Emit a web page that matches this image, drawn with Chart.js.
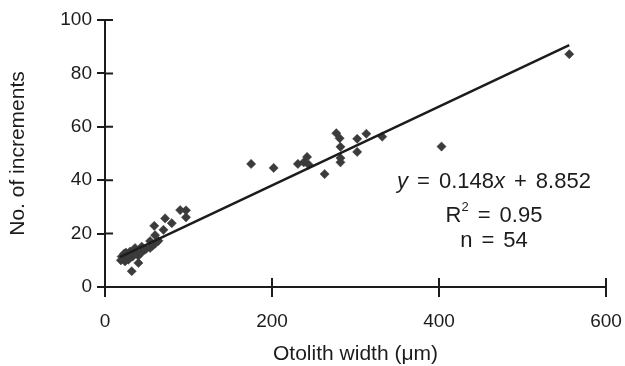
<!DOCTYPE html>
<html>
<head>
<meta charset="utf-8">
<script src="https://cdn.jsdelivr.net/npm/chart.js@4.4.0/dist/chart.umd.min.js"></script>
<style>
  html, body { margin: 0; padding: 0; background: #fff; }
</style>
</head>
<body>
<canvas id="otolithChart" width="625" height="366"></canvas>
<script>
  // otolith width (um) vs number of increments
  const widthUm = [90, 97, 97, 72, 80, 59, 70, 60, 54, 60, 54, 46, 40, 40, 32, 36, 20, 22,
                   24, 26, 28, 30, 33, 44, 49, 57, 64, 25, 30, 37, 43, 19, 23, 35, 28, 47,
                   175, 202, 231, 238, 242, 244, 263, 277, 281, 282, 282, 282, 302, 302, 313, 332,
                   403, 556];
  const increments = [28.8, 28.7, 26.1, 25.7, 23.9, 22.9, 21.4, 19.4, 17.2, 16.2, 14.6, 13.6, 11.7, 9.0, 5.9, 14.6, 11.4, 10.8,
                      9.6, 12.1, 10.2, 13.3, 11.4, 15.1, 14.2, 15.5, 17.3, 12.9, 11.2, 13.0, 12.8, 10.0, 12.5, 12.2, 12.0, 14.0,
                      46.1, 44.6, 46.1, 46.7, 48.7, 45.8, 42.3, 57.6, 55.7, 52.5, 48.3, 46.7, 55.5, 50.6, 57.4, 56.3,
                      52.6, 87.2];
  // ends of the fitted line
  const fitX = [18, 556];
  const fitY = [11.2, 90.6];
  const xTicks = [0, 200, 400, 600];
  const yTicks = [0, 20, 40, 60, 80, 100];

  const inkColor = '#1c1c1c';
  const fontFamily = "'Liberation Sans', Arial, sans-serif";

  // inward half of the tick marks (they cross the axis lines)
  const crossTicks = {
    id: 'crossTicks',
    afterDraw(chart) {
      const { ctx } = chart;
      const x = chart.scales.x, y = chart.scales.y;
      ctx.save();
      ctx.strokeStyle = inkColor;
      ctx.lineWidth = 2;
      ctx.beginPath();
      xTicks.forEach(function(v) {
        const px = x.getPixelForValue(v);
        ctx.moveTo(px, y.bottom);
        ctx.lineTo(px, y.bottom - 9);
      });
      yTicks.forEach(function(v) {
        const py = y.getPixelForValue(v);
        ctx.moveTo(x.left, py);
        ctx.lineTo(x.left + 8, py);
      });
      ctx.stroke();
      ctx.restore();
    }
  };

  // regression text block, spaces are drawn as slightly wider gaps
  const statLines = [
    [['y', 'i'], [' = 0.148', 'n'], ['x', 'i'], [' + 8.852', 'n']],
    [['R', 'n'], ['2', 's'], [' = 0.95', 'n']],
    [['n = 54', 'n']]
  ];
  const statBaselines = [188, 221.5, 246.5];
  const statCenterX = 494;
  const spaceGap = 9;

  const statsText = {
    id: 'statsText',
    afterDraw(chart) {
      const ctx = chart.ctx;
      ctx.save();
      ctx.fillStyle = inkColor;
      ctx.textBaseline = 'alphabetic';
      ctx.textAlign = 'left';
      const fontFor = function(style) {
        if (style === 'i') return 'italic 22px ' + fontFamily;
        if (style === 's') return '13px ' + fontFamily;
        return '22px ' + fontFamily;
      };
      const runs = function(parts) {
        const out = [];
        parts.forEach(function(p) {
          p[0].split(' ').forEach(function(word, k) {
            if (k > 0) out.push({ gap: spaceGap });
            if (word) out.push({ text: word, style: p[1] });
          });
        });
        return out;
      };
      const widthOf = function(r) {
        if (r.gap) return r.gap;
        ctx.font = fontFor(r.style);
        return ctx.measureText(r.text).width;
      };
      statLines.forEach(function(parts, i) {
        const items = runs(parts);
        let total = 0;
        items.forEach(function(r) { total += widthOf(r); });
        let cx = statCenterX - total / 2;
        items.forEach(function(r) {
          const w = widthOf(r);
          if (!r.gap) {
            const dy = r.style === 's' ? -11 : 0;
            ctx.fillText(r.text, cx, statBaselines[i] + dy);
          }
          cx += w;
        });
      });
      ctx.restore();
    }
  };

  const points = widthUm.map(function(w, i) { return { x: w, y: increments[i] }; });
  const fitLine = fitX.map(function(w, i) { return { x: w, y: fitY[i] }; });

  const ctx = document.getElementById('otolithChart').getContext('2d');
  const otolithChart = new Chart(ctx, {
    type: 'scatter',
    data: {
      datasets: [{
        label: 'Fit',
        data: fitLine,
        showLine: true,
        borderColor: inkColor,
        borderWidth: 2.5,
        pointRadius: 0,
        order: 0
      }, {
        label: 'Samples',
        data: points,
        pointStyle: 'rectRot',
        pointRadius: 4.6,
        backgroundColor: '#3b3b3b',
        borderColor: '#3b3b3b',
        borderWidth: 0.5,
        order: 1
      }]
    },
    options: {
      responsive: false,
      animation: false,
      devicePixelRatio: 1,
      layout: { padding: { left: 0, top: 20, right: 19, bottom: 0 } },
      plugins: {
        legend: { display: false },
        tooltip: { enabled: false }
      },
      scales: {
        x: {
          type: 'linear',
          min: 0,
          max: 600,
          afterFit: function(scale) {
            scale.height = 79;
            scale.paddingLeft = 0;
            scale.paddingRight = 0;
          },
          afterBuildTicks: function(scale) { scale.ticks = xTicks.map(function(v) { return { value: v }; }); },
          border: { display: true, color: inkColor, width: 2 },
          grid: { drawOnChartArea: false, drawTicks: true, tickLength: 10, color: inkColor, lineWidth: 2 },
          ticks: { color: inkColor, padding: 13, maxRotation: 0, font: { family: fontFamily, size: 19 } },
          title: {
            display: true,
            text: 'Otolith width (μm)',
            color: inkColor,
            font: { family: fontFamily, size: 21, lineHeight: 1 },
            padding: { top: 0, bottom: 1 }
          }
        },
        y: {
          type: 'linear',
          min: 0,
          max: 100,
          afterFit: function(scale) {
            scale.width = 105;
            scale.paddingTop = 0;
            scale.paddingBottom = 0;
          },
          afterBuildTicks: function(scale) { scale.ticks = yTicks.map(function(v) { return { value: v }; }); },
          border: { display: true, color: inkColor, width: 2 },
          grid: { drawOnChartArea: false, drawTicks: true, tickLength: 8, color: inkColor, lineWidth: 2 },
          ticks: { color: inkColor, padding: 5, font: { family: fontFamily, size: 19 } },
          title: {
            display: true,
            text: 'No. of increments',
            color: inkColor,
            font: { family: fontFamily, size: 21, lineHeight: 1 },
            padding: { top: 8, bottom: 0 }
          }
        }
      }
    },
    plugins: [crossTicks, statsText]
  });
</script>
</body>
</html>
